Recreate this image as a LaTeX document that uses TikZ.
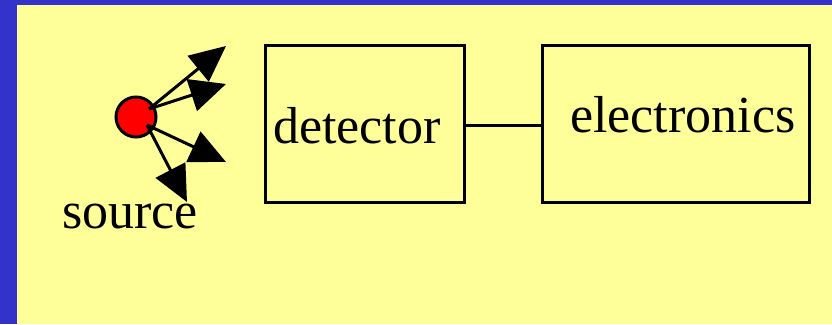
\documentclass[tikz,border=0pt]{standalone}
\usepackage{fontspec}
\setmainfont{Liberation Serif}
\usetikzlibrary{arrows.meta}
\definecolor{frameblue}{HTML}{3333CC}
\definecolor{paleyellow}{HTML}{FFFF99}
\begin{document}
\begin{tikzpicture}[x=1pt,y=-1pt,
  boxnode/.style={draw=black,line width=3pt,minimum width=#1,minimum height=157pt,inner sep=0pt},
  labeltext/.style={font=\fontsize{52}{60}\selectfont,inner sep=0pt,anchor=base west},
  ray/.style={line width=3pt,-{Triangle[length=36pt,width=33pt]}}]
  % background: blue frame on left and top, pale yellow panel
  \fill[frameblue] (0,0) rectangle (832,324);
  \fill[paleyellow] (17,5) rectangle (832,324);
  \useasboundingbox (0,0) rectangle (832,324);

  % source with emitted rays
  \node[circle,draw=black,line width=3pt,fill=red,minimum size=40pt,inner sep=0pt] (src) at (136,117) {};
  \coordinate (o1) at (149,109);
  \coordinate (o2) at (147,125);
  \coordinate (t1) at (226,46);
  \coordinate (t2) at (226,84);
  \coordinate (t3) at (226,162);
  \coordinate (t4) at (187,202);
  \draw[ray] (o1) -- (t1);
  \draw[ray] (o1) -- (t2);
  \draw[ray] (o2) -- (t3);
  \draw[ray] (o2) -- (t4);
  \node[labeltext] (srclabel) at (62,228) {source};

  % detector and electronics blocks
  \node[boxnode=199pt] (det) at (364.5,123.5) {};
  \node[boxnode=267pt] (elec) at (675.5,124) {};
  \node[labeltext] (detlabel) at (273,143) {detector};
  \node[labeltext] (eleclabel) at (570,132) {electronics};
  \draw[line width=3pt] (det.east |- 0,125) -- (elec.west |- 0,125);
\end{tikzpicture}
\end{document}
